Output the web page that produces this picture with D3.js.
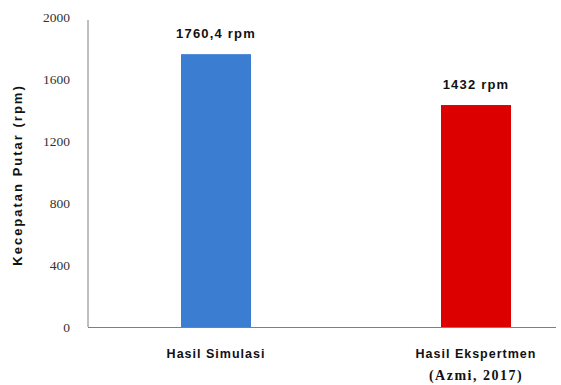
<!DOCTYPE html>
<html>
<head>
<meta charset="utf-8">
<script src="https://cdn.jsdelivr.net/npm/d3@7"></script>
<style>
  html, body { margin: 0; padding: 0; background: #fff; }
  svg { display: block; }
</style>
</head>
<body>
<svg id="chart" width="561" height="385"></svg>
<script>
// Rotational speed: simulation vs. experiment
const categories = ["Hasil Simulasi", "Hasil Ekspertmen"];
const subLabels = ["", "(Azmi, 2017)"];
const values = [1760.4, 1432];
const valueLabels = ["1760,4 rpm", "1432 rpm"];
const barColors = ["#3b7dd1", "#dc0000"];
const yTicks = [0, 400, 800, 1200, 1600, 2000];
const yTitle = "Kecepatan Putar (rpm)";

const svg = d3.select("#chart");

const y = d3.scaleLinear().domain([0, 2000]).range([327, 17]);
const x = d3.scalePoint().domain(categories).range([216, 476]);
const barW = 70;

const sans = "'Liberation Sans', Arial, sans-serif";
const serif = "'Liberation Serif', 'DejaVu Serif', serif";

// y axis
const yAxis = svg.append("g")
  .attr("transform", "translate(88,0)")
  .call(d3.axisLeft(y).tickValues(yTicks).tickSize(0).tickPadding(18).tickFormat(d3.format("d")));
yAxis.select(".domain").attr("stroke", "#7f7f7f").attr("d", "M0,20V327");
yAxis.selectAll("text")
  .attr("font-family", serif)
  .attr("font-size", 13.5)
  .attr("fill", "#333");

// bars
svg.selectAll("rect.bar")
  .data(values)
  .join("rect")
  .attr("class", "bar")
  .attr("x", (d, i) => x(categories[i]) - barW / 2)
  .attr("width", barW)
  .attr("y", d => y(d))
  .attr("height", d => y(0) - y(d))
  .attr("fill", (d, i) => barColors[i]);

// x axis baseline
svg.append("line")
  .attr("x1", 88).attr("x2", 556)
  .attr("y1", y(0) + 0.5).attr("y2", y(0) + 0.5)
  .attr("stroke", "#7f7f7f").attr("stroke-width", 1.2);

// value labels
svg.selectAll("text.val")
  .data(values)
  .join("text")
  .attr("class", "val")
  .attr("x", (d, i) => x(categories[i]))
  .attr("y", d => y(d) - 16)
  .attr("text-anchor", "middle")
  .attr("font-family", sans)
  .attr("font-weight", "bold")
  .attr("font-size", 13)
  .attr("letter-spacing", 1.2)
  .attr("fill", "#111")
  .text((d, i) => valueLabels[i]);

// category labels
svg.selectAll("text.cat")
  .data(categories)
  .join("text")
  .attr("class", "cat")
  .attr("x", d => x(d))
  .attr("y", 358)
  .attr("text-anchor", "middle")
  .attr("font-family", sans)
  .attr("font-weight", "bold")
  .attr("font-size", 12.5)
  .attr("letter-spacing", 1)
  .attr("fill", "#111")
  .text(d => d);

svg.selectAll("text.sub")
  .data(subLabels)
  .join("text")
  .attr("class", "sub")
  .attr("x", (d, i) => x(categories[i]))
  .attr("y", 380)
  .attr("text-anchor", "middle")
  .attr("font-family", serif)
  .attr("font-weight", "bold")
  .attr("font-size", 14)
  .attr("letter-spacing", 1.5)
  .attr("fill", "#111")
  .text(d => d);

// y axis title
svg.append("text")
  .attr("transform", "translate(22,175) rotate(-90)")
  .attr("text-anchor", "middle")
  .attr("font-family", sans)
  .attr("font-weight", "bold")
  .attr("font-size", 13)
  .attr("letter-spacing", 2)
  .attr("fill", "#111")
  .text(yTitle);
</script>
</body>
</html>
